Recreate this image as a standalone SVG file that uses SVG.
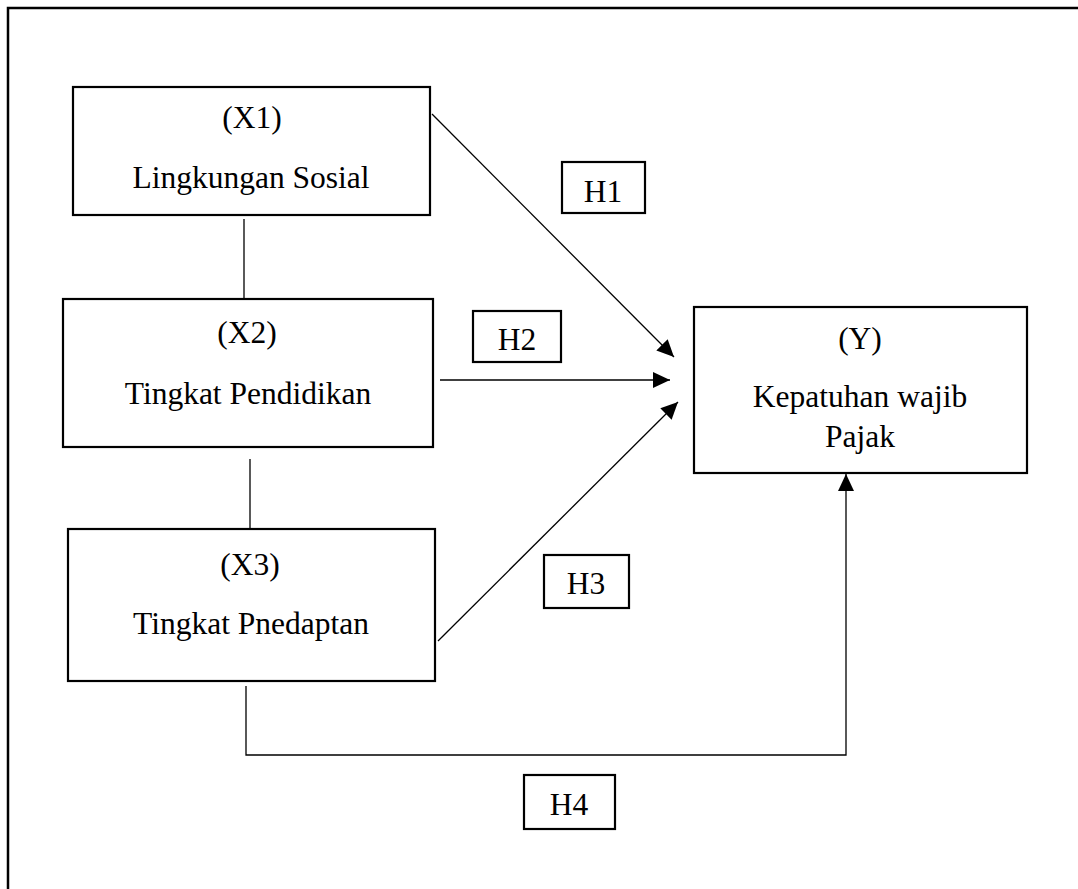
<svg xmlns="http://www.w3.org/2000/svg" width="1078" height="889" viewBox="0 0 1078 889">
<defs>
<marker id="arr" markerUnits="userSpaceOnUse" markerWidth="18" markerHeight="16" refX="17" refY="8" orient="auto">
<path d="M0,0 L17,8 L0,16 Z" fill="#000"/>
</marker>
<style>
.box{fill:#fff;stroke:#000;stroke-width:2.2}
.lbl{fill:#fff;stroke:#000;stroke-width:2.2}
.t{font-family:"Liberation Serif","Times New Roman",serif;font-size:31.5px;fill:#000;text-anchor:middle}
.c{fill:none;stroke:#000;stroke-width:1.3}
.frame{fill:none;stroke:#000;stroke-width:2.5}
</style>
</defs>
<rect width="1078" height="889" fill="#fff"/>
<path class="frame" d="M8,889 L8,8 L1078,8"/>
<g id="connectors">
<line class="c" x1="244" y1="219" x2="244" y2="299"/>
<line class="c" x1="250" y1="459" x2="250" y2="529"/>
<line class="c" x1="432" y1="114" x2="674" y2="357" marker-end="url(#arr)"/>
<line class="c" x1="440" y1="380" x2="670" y2="380" marker-end="url(#arr)"/>
<line class="c" x1="438" y1="641" x2="678" y2="402" marker-end="url(#arr)"/>
<polyline class="c" points="246,686 246,755 846,755 846,474" marker-end="url(#arr)"/>
</g>
<g id="x1">
<rect class="box" x="73" y="87" width="357" height="128"/>
<text class="t" x="252" y="128">(X1)</text>
<text class="t" x="251" y="188">Lingkungan Sosial</text>
</g>
<g id="x2">
<rect class="box" x="63" y="299" width="370" height="148"/>
<text class="t" x="247" y="343">(X2)</text>
<text class="t" x="248" y="404">Tingkat Pendidikan</text>
</g>
<g id="x3">
<rect class="box" x="68" y="529" width="367" height="152"/>
<text class="t" x="250" y="575">(X3)</text>
<text class="t" x="251" y="634">Tingkat Pnedaptan</text>
</g>
<g id="y">
<rect class="box" x="694" y="307" width="333" height="166"/>
<text class="t" x="860" y="349">(Y)</text>
<text class="t" x="860" y="407">Kepatuhan wajib</text>
<text class="t" x="860" y="447">Pajak</text>
</g>
<g id="h1">
<rect class="lbl" x="562" y="162" width="83" height="51"/>
<text class="t" x="603" y="202">H1</text>
</g>
<g id="h2">
<rect class="lbl" x="473" y="311" width="88" height="51"/>
<text class="t" x="517" y="350">H2</text>
</g>
<g id="h3">
<rect class="lbl" x="544" y="555" width="85" height="53"/>
<text class="t" x="586" y="594">H3</text>
</g>
<g id="h4">
<rect class="lbl" x="524" y="775" width="91" height="54"/>
<text class="t" x="569" y="815">H4</text>
</g>
</svg>
